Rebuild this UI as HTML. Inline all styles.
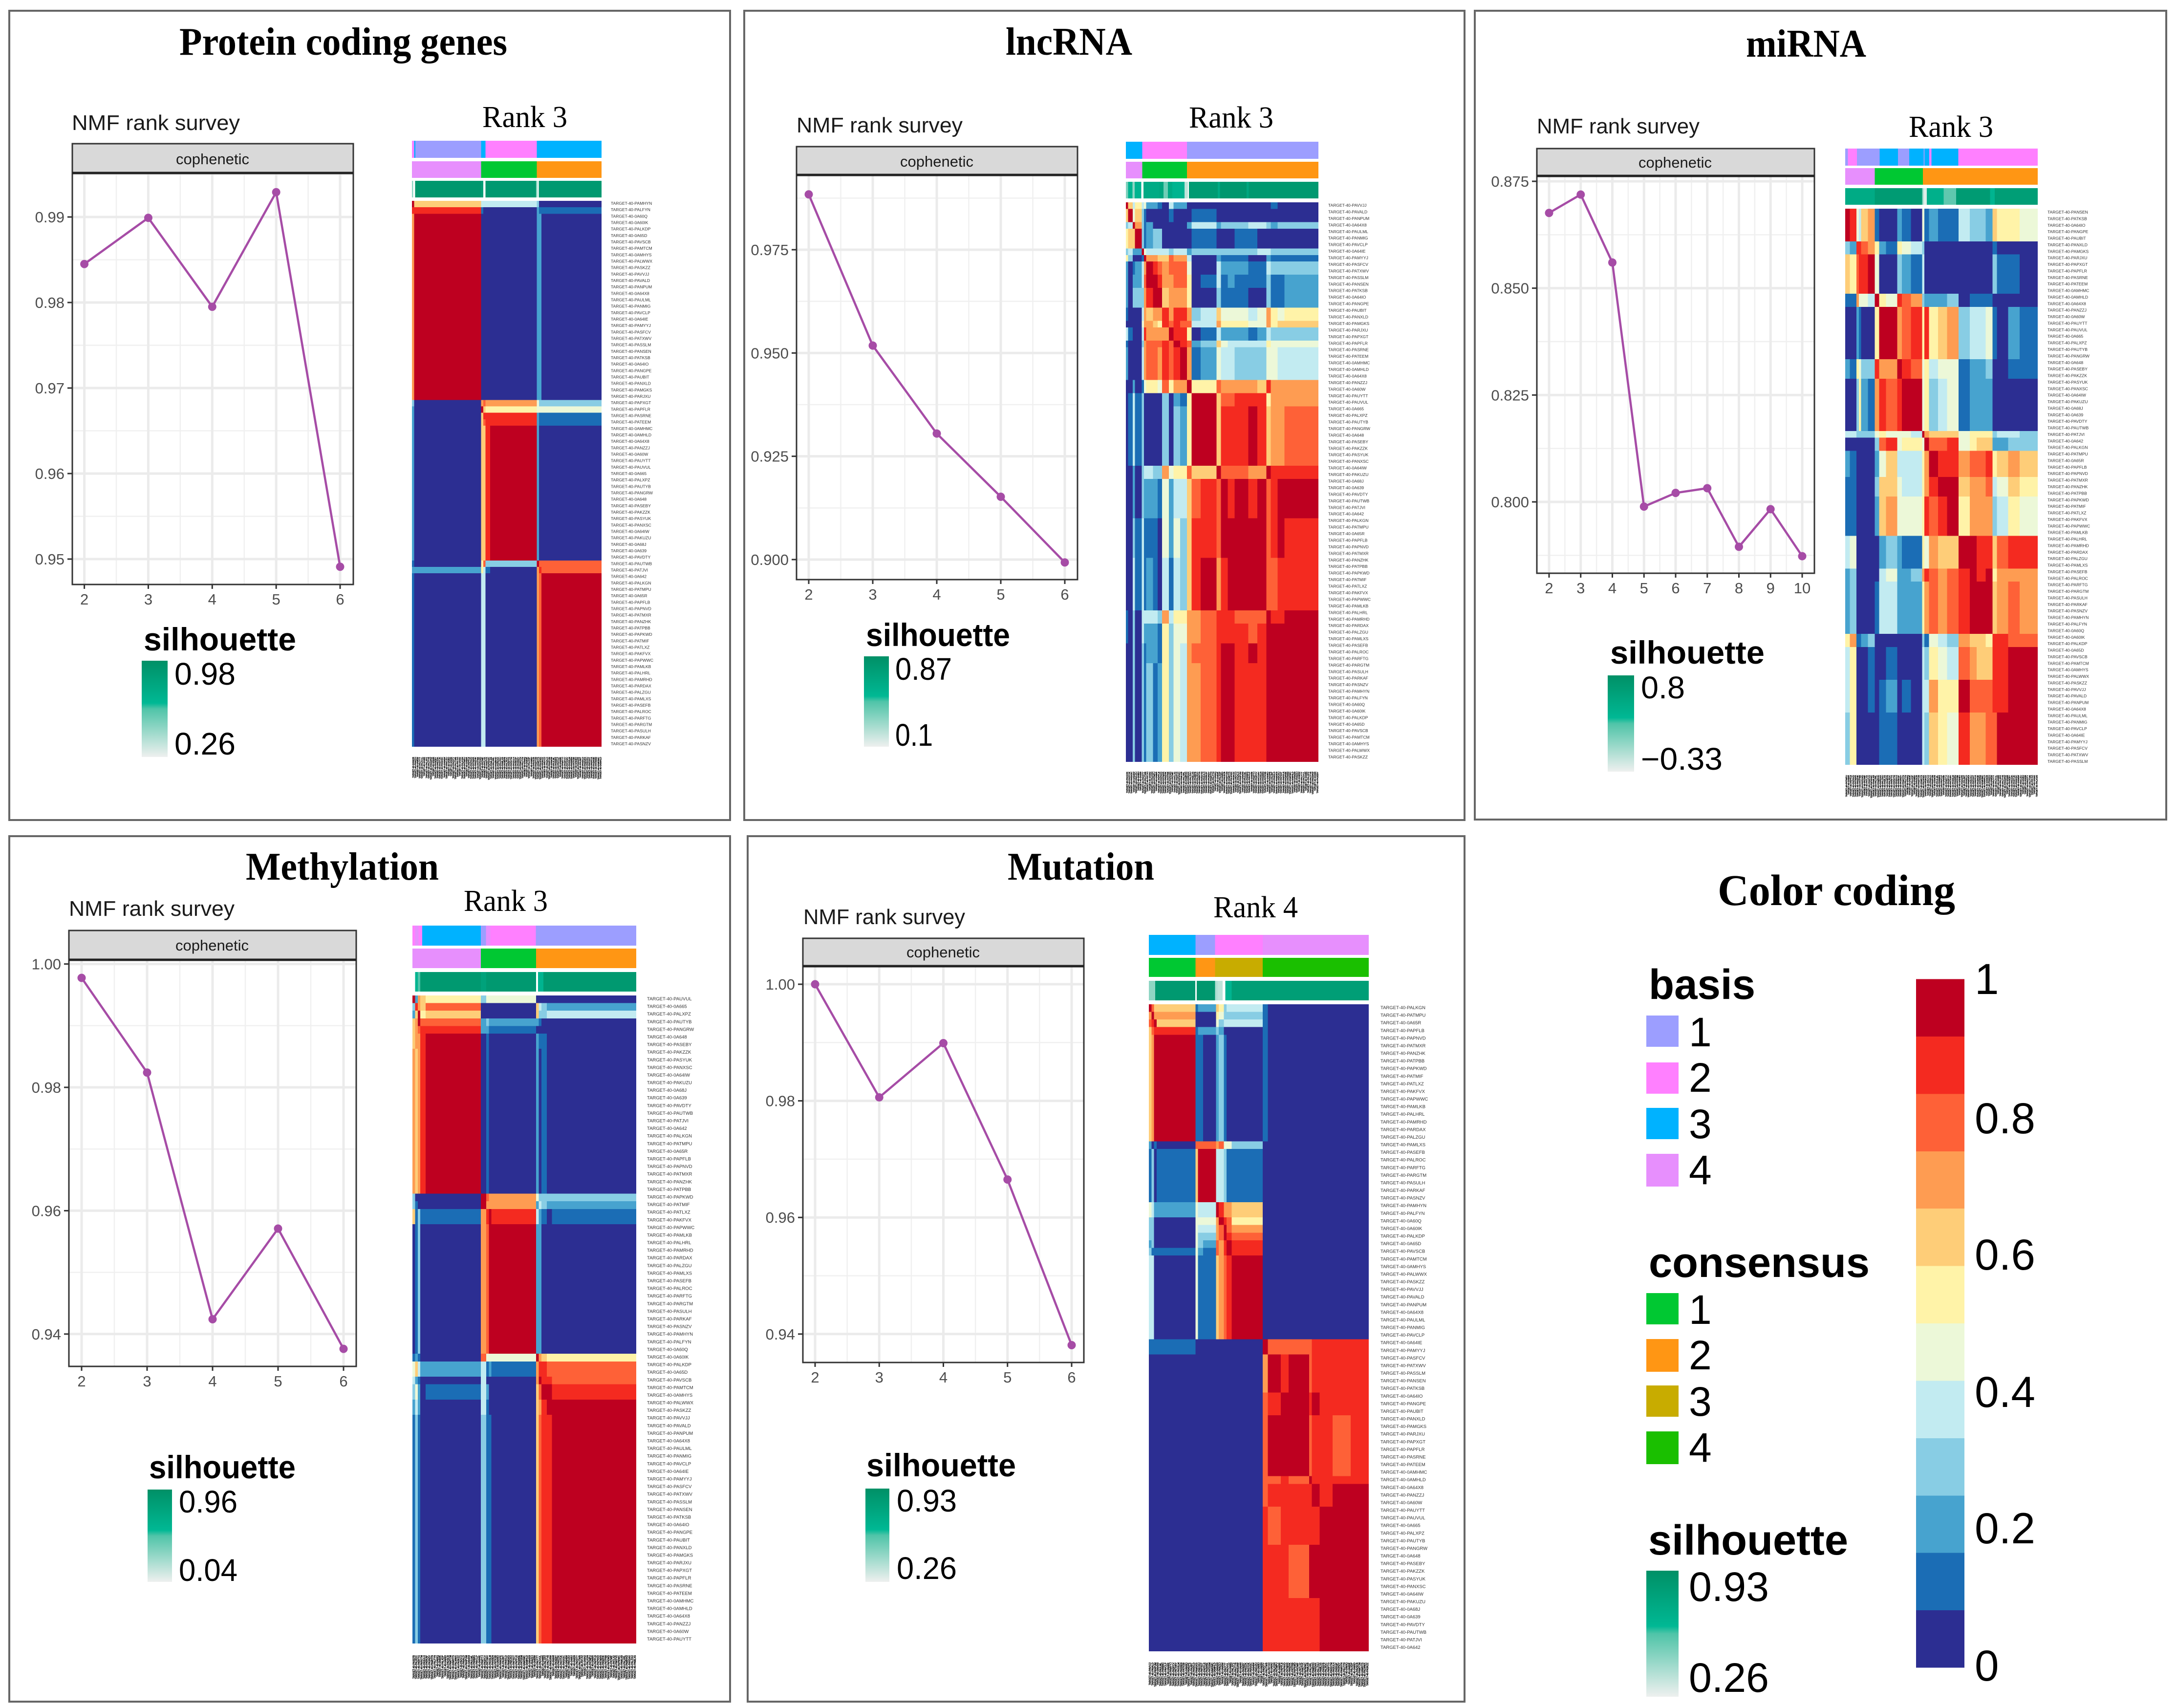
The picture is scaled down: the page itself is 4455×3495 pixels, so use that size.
<!DOCTYPE html>
<html lang="en">
<head>
<meta charset="utf-8">
<title>NMF rank survey and consensus heatmaps</title>
<style>
html,body{margin:0;padding:0;background:#fff}
svg{display:block}
.serif{font-family:"Liberation Serif",serif}
.sans{font-family:"Liberation Sans",sans-serif}
.title{font-weight:700;fill:#000;font-size:80px}
.rank{fill:#000;font-size:62px}
.nmf{fill:#1a1a1a;font-size:44px}
.strip{fill:#1a1a1a;font-size:31px}
.sil{font-weight:700;fill:#000;font-size:66px}
.val{fill:#000;font-size:64px}
.panel{fill:none;stroke:#666;stroke-width:4}
.stripbox{fill:#d9d9d9;stroke:#333;stroke-width:3}
.lg{fill:#000;font-size:84px}
.lgh{font-weight:700;fill:#000;font-size:86px}
</style>
</head>
<body>
<svg id="figure" xmlns="http://www.w3.org/2000/svg" width="4455" height="3495" viewBox="0 0 4455 3495">
<defs>
<linearGradient id="silGrad" x1="0" y1="0" x2="0" y2="1">
<stop offset="0" stop-color="#009066"/>
<stop offset="0.44" stop-color="#00b894"/>
<stop offset="0.5" stop-color="#4fc4a8"/>
<stop offset="1" stop-color="#eef0ef"/>
</linearGradient>
</defs>
<rect x="0" y="0" width="4455" height="3495" fill="#fff"/>

<g>
<rect class="panel" x="19" y="22" width="1475" height="1656"/>
<text class="serif title" x="367" y="112" textLength="671" lengthAdjust="spacingAndGlyphs">Protein coding genes</text>
<text class="sans nmf" x="147" y="266" textLength="344" lengthAdjust="spacingAndGlyphs">NMF rank survey</text>
<rect class="stripbox" x="148" y="294" width="575" height="60"/>
<text class="sans strip" x="435" y="336" text-anchor="middle">cophenetic</text>
<g id="survey-protein"></g>
<text class="sans sil" x="294" y="1331" textLength="312" lengthAdjust="spacingAndGlyphs">silhouette</text>
<rect x="290" y="1352" width="53" height="197" fill="url(#silGrad)"/>
<text class="sans val" x="357" y="1401" textLength="125" lengthAdjust="spacingAndGlyphs">0.98</text>
<text class="sans val" x="357" y="1544" textLength="125" lengthAdjust="spacingAndGlyphs">0.26</text>
<text class="serif rank" x="987" y="260" textLength="174" lengthAdjust="spacingAndGlyphs">Rank 3</text>
<g id="heat-protein"></g>
</g>

<g>
<rect class="panel" x="1523" y="22" width="1474" height="1656"/>
<text class="serif title" x="2058" y="112" textLength="259" lengthAdjust="spacingAndGlyphs">lncRNA</text>
<text class="sans nmf" x="1630" y="271" textLength="340" lengthAdjust="spacingAndGlyphs">NMF rank survey</text>
<rect class="stripbox" x="1630" y="300" width="575" height="58"/>
<text class="sans strip" x="1917" y="341" text-anchor="middle">cophenetic</text>
<g id="survey-lnc"></g>
<text class="sans sil" x="1772" y="1322" textLength="295" lengthAdjust="spacingAndGlyphs">silhouette</text>
<rect x="1768" y="1343" width="51" height="185" fill="url(#silGrad)"/>
<text class="sans val" x="1832" y="1391" textLength="116" lengthAdjust="spacingAndGlyphs">0.87</text>
<text class="sans val" x="1832" y="1526" textLength="77" lengthAdjust="spacingAndGlyphs">0.1</text>
<text class="serif rank" x="2433" y="261" textLength="173" lengthAdjust="spacingAndGlyphs">Rank 3</text>
<g id="heat-lnc"></g>
</g>

<g>
<rect class="panel" x="3018" y="22" width="1415" height="1655"/>
<text class="serif title" x="3573" y="116" textLength="246" lengthAdjust="spacingAndGlyphs">miRNA</text>
<text class="sans nmf" x="3145" y="273" textLength="333" lengthAdjust="spacingAndGlyphs">NMF rank survey</text>
<rect class="stripbox" x="3145" y="304" width="568" height="56"/>
<text class="sans strip" x="3428" y="343" text-anchor="middle">cophenetic</text>
<g id="survey-mirna"></g>
<text class="sans sil" x="3295" y="1358" textLength="316" lengthAdjust="spacingAndGlyphs">silhouette</text>
<rect x="3290" y="1382" width="54" height="197" fill="url(#silGrad)"/>
<text class="sans val" x="3358" y="1429" textLength="90" lengthAdjust="spacingAndGlyphs">0.8</text>
<text class="sans val" x="3358" y="1575" textLength="167" lengthAdjust="spacingAndGlyphs">−0.33</text>
<text class="serif rank" x="3906" y="280" textLength="173" lengthAdjust="spacingAndGlyphs">Rank 3</text>
<g id="heat-mirna"></g>
</g>

<g>
<rect class="panel" x="19" y="1711" width="1475" height="1771"/>
<text class="serif title" x="503" y="1800" textLength="395" lengthAdjust="spacingAndGlyphs">Methylation</text>
<text class="sans nmf" x="141" y="1874" textLength="339" lengthAdjust="spacingAndGlyphs">NMF rank survey</text>
<rect class="stripbox" x="141" y="1904" width="588" height="60"/>
<text class="sans strip" x="434" y="1945" text-anchor="middle">cophenetic</text>
<g id="survey-methyl"></g>
<text class="sans sil" x="305" y="3025" textLength="300" lengthAdjust="spacingAndGlyphs">silhouette</text>
<rect x="302" y="3048" width="50" height="189" fill="url(#silGrad)"/>
<text class="sans val" x="366" y="3095" textLength="120" lengthAdjust="spacingAndGlyphs">0.96</text>
<text class="sans val" x="366" y="3235" textLength="120" lengthAdjust="spacingAndGlyphs">0.04</text>
<text class="serif rank" x="949" y="1864" textLength="172" lengthAdjust="spacingAndGlyphs">Rank 3</text>
<g id="heat-methyl"></g>
</g>

<g>
<rect class="panel" x="1530" y="1711" width="1467" height="1771"/>
<text class="serif title" x="2062" y="1800" textLength="300" lengthAdjust="spacingAndGlyphs">Mutation</text>
<text class="sans nmf" x="1644" y="1891" textLength="331" lengthAdjust="spacingAndGlyphs">NMF rank survey</text>
<rect class="stripbox" x="1643" y="1920" width="575" height="57"/>
<text class="sans strip" x="1930" y="1959" text-anchor="middle">cophenetic</text>
<g id="survey-mutation"></g>
<text class="sans sil" x="1773" y="3021" textLength="306" lengthAdjust="spacingAndGlyphs">silhouette</text>
<rect x="1771" y="3046" width="49" height="191" fill="url(#silGrad)"/>
<text class="sans val" x="1835" y="3093" textLength="123" lengthAdjust="spacingAndGlyphs">0.93</text>
<text class="sans val" x="1835" y="3231" textLength="123" lengthAdjust="spacingAndGlyphs">0.26</text>
<text class="serif rank" x="2483" y="1877" textLength="173" lengthAdjust="spacingAndGlyphs">Rank 4</text>
<g id="heat-mutation"></g>
</g>

<g>
<text class="serif title" x="3515" y="1852" textLength="486" lengthAdjust="spacingAndGlyphs" style="font-size:90px">Color coding</text>
<text class="sans lgh" x="3374" y="2044" textLength="218" lengthAdjust="spacingAndGlyphs">basis</text>
<rect x="3369" y="2078" width="66" height="64" fill="#9c9eff"/>
<rect x="3369" y="2174" width="66" height="64" fill="#ff80ff"/>
<rect x="3369" y="2267" width="66" height="64" fill="#00b2ff"/>
<rect x="3369" y="2361" width="66" height="67" fill="#e78ffd"/>
<text class="sans lg" x="3456" y="2141">1</text>
<text class="sans lg" x="3456" y="2234">2</text>
<text class="sans lg" x="3456" y="2329">3</text>
<text class="sans lg" x="3456" y="2423">4</text>
<text class="sans lgh" x="3374" y="2613" textLength="452" lengthAdjust="spacingAndGlyphs">consensus</text>
<rect x="3369" y="2646" width="66" height="64" fill="#00c832"/>
<rect x="3369" y="2740" width="66" height="67" fill="#ff9614"/>
<rect x="3369" y="2835" width="66" height="64" fill="#c8ac00"/>
<rect x="3369" y="2929" width="66" height="67" fill="#1abf00"/>
<text class="sans lg" x="3456" y="2709">1</text>
<text class="sans lg" x="3456" y="2802">2</text>
<text class="sans lg" x="3456" y="2897">3</text>
<text class="sans lg" x="3456" y="2991">4</text>
<text class="sans lgh" x="3373" y="3181" textLength="409" lengthAdjust="spacingAndGlyphs">silhouette</text>
<rect x="3369" y="3214" width="66" height="258" fill="url(#silGrad)"/>
<text class="sans lg" x="3456" y="3276" textLength="164" lengthAdjust="spacingAndGlyphs">0.93</text>
<text class="sans lg" x="3456" y="3462" textLength="164" lengthAdjust="spacingAndGlyphs">0.26</text>
<g id="consensus-colorbar"></g>
<text class="sans lg" x="4041" y="2034" style="font-size:89px">1</text>
<text class="sans lg" x="4041" y="2319" textLength="124" lengthAdjust="spacingAndGlyphs" style="font-size:89px">0.8</text>
<text class="sans lg" x="4041" y="2598" textLength="124" lengthAdjust="spacingAndGlyphs" style="font-size:89px">0.6</text>
<text class="sans lg" x="4041" y="2879" textLength="124" lengthAdjust="spacingAndGlyphs" style="font-size:89px">0.4</text>
<text class="sans lg" x="4041" y="3158" textLength="124" lengthAdjust="spacingAndGlyphs" style="font-size:89px">0.2</text>
<text class="sans lg" x="4041" y="3439" style="font-size:89px">0</text>
</g>
</svg>

<script>
/* ---------- rank survey data ---------- */
const proteinRanks = [2,3,4,5,6];
const proteinCophenetic = [0.9845,0.9899,0.9795,0.9929,0.9491];
const proteinTicks = [0.95,0.96,0.97,0.98,0.99];

const lncRanks = [2,3,4,5,6];
const lncCophenetic = [0.9884,0.9518,0.9305,0.9152,0.8993];
const lncTicks = [0.900,0.925,0.950,0.975];

const mirnaRanks = [2,3,4,5,6,7,8,9,10];
const mirnaCophenetic = [0.8676,0.8719,0.856,0.7989,0.8021,0.8032,0.7895,0.7983,0.7873];
const mirnaTicks = [0.800,0.825,0.850,0.875];

const methylRanks = [2,3,4,5,6];
const methylCophenetic = [0.99775,0.9824,0.9424,0.9571,0.9376];
const methylTicks = [0.94,0.96,0.98,1.00];

const mutationRanks = [2,3,4,5,6];
const mutationCophenetic = [1.0,0.9806,0.9899,0.9665,0.9381];
const mutationTicks = [0.94,0.96,0.98,1.00];

/* ---------- shared category data ---------- */
const consensusPalette = ['#2c2e92','#1b6db5','#47a3cf','#88cde4','#c2ebf1','#ecf8d8','#fff3a8','#fecd78','#fe9c52','#fe6137','#f42a20','#be0020'];
const basisColors = ['#9c9eff','#ff80ff','#00b2ff','#e78ffd'];
const consensusColors = ['#00c832','#ff9614','#c8ac00','#1abf00','#e78ffd'];
const sampleIds = ['PAMHYN','PALFYN','0A60Q','0A60IK','PALKDP','0A65D','PAVSCB','PAMTCM','0AMHYS','PALWWX','PASKZZ','PAVVJJ','PAVALD','PANPUM','0A64X8','PAULML','PANMIG','PAVCLP','0A64IE','PAMYYJ','PASFCV','PATXWV','PASSLM','PANSEN','PATKSB','0A64IO','PANGPE','PAUBIT','PANXLD','PAMGKS','PARJXU','PAPXGT','PAPFLR','PASRNE','PATEEM','0AMHMC','0AMHLD','0A64X8','PANZZJ','0A60W','PAUYTT','PAUVUL','0A665','PALXPZ','PAUTYB','PANGRW','0A648','PASEBY','PAKZZK','PASYUK','PANXSC','0A64IW','PAKUZU','0A68J','0A639','PAVDTY','PAUTWB','PATJVI','0A642','PALKGN','PATMPU','0A65R','PAPFLB','PAPNVD','PATMXR','PANZHK','PATPBB','PAPKWD','PATMIF','PATLXZ','PAKFVX','PAPWWC','PAMLKB','PALHRL','PAMRHD','PARDAX','PALZGU','PAMLXS','PASEFB','PALROC','PARFTG','PARGTM','PASULH','PARKAF','PASNZV'];

/* ---------- protein heatmap data ---------- */
const proteinBasisCounts = [1,0.5,29.5,2,23,29];
const proteinBasisLevels = [1,2,0,2,1,2];
const proteinConsensusCounts = [31,25,29];
const proteinConsensusLevels = [4,0,1];
const proteinSilCounts = [0.6,0.8,29.6,1,1,22.6,0.7,0.5,28.2];
const proteinSilValues = [0.3,null,0.92,0.85,null,0.9,0.3,null,0.9];
const proteinColCounts = [1,30,1,1,2,21,1,1,27];
const proteinRowCounts = [1,1,29,1,1,1,1,21,1,1,27];
const proteinMatrix = [
[11,7,4,4,4,4,3,0,0],
[10,10,1,0,0,0,2,1,1],
[8,11,0,0,0,0,2,2,0],
[3,0,8,9,8,8,5,3,3],
[2,0,11,7,6,6,5,5,5],
[2,0,7,10,10,10,2,1,1],
[2,0,7,9,10,10,2,1,1],
[2,0,7,7,10,11,2,0,0],
[1,0,6,9,3,3,11,9,9],
[2,2,6,4,1,0,8,10,9],
[1,0,4,4,0,0,8,9,11]];

/* ---------- lncRNA heatmap data ---------- */
const lncBasisCounts = [7.2,19.8,58];
const lncBasisLevels = [2,1,0];
const lncConsensusCounts = [7.2,19.8,58];
const lncConsensusLevels = [4,0,1];
const lncSilCounts = [1,2,1,3,1,7,2,2,2,5.5,1.5,0.5,13,1,12,1,31.5];
const lncSilValues = [0.35,0.6,0.3,0.6,null,0.7,0.75,0.4,0.7,0.6,0.15,null,0.88,0.7,0.92,0.75,0.9];
const lncColCounts = [1,2,1,3,1,1,3,2,2,3,2,3,3,2,4,7,2,3,3,6,4,4,2,3,3,15];
const lncRowCounts = [1,2,1,3,1,1,2,2,3,2,1,2,1,5,2,2,9,2,6,6,8,2,3,3,15];
const lncMatrix = [
[11,7,4,6,4,5,2,2,1,0,4,2,2,0,0,0,0,0,0,0,0,0,0,1,0,0],
[7,11,5,7,3,1,0,0,0,0,1,0,0,0,1,1,0,0,0,0,0,0,0,0,0,0],
[3,4,11,8,3,1,2,0,0,0,0,0,0,2,4,4,2,3,3,3,4,4,3,2,3,3],
[6,7,7,11,3,1,2,3,3,0,0,0,0,0,1,1,0,0,0,1,1,0,0,0,0,0],
[3,4,2,2,11,5,4,4,4,4,3,4,4,2,3,3,3,3,3,3,3,4,4,3,3,3],
[6,3,0,0,1,11,8,8,7,7,9,8,8,4,0,0,2,1,1,1,0,0,2,1,1,1],
[2,0,1,2,4,8,11,10,9,8,9,9,9,5,0,0,4,2,2,2,1,1,4,3,3,3],
[2,0,2,2,4,9,11,11,10,8,8,9,9,6,0,1,4,1,2,1,1,1,3,1,1,2],
[2,0,3,3,3,8,10,11,11,7,8,8,8,6,0,0,3,1,1,1,0,0,3,1,1,2],
[1,0,0,0,4,8,7,8,8,10,8,10,10,8,3,4,7,5,5,5,4,5,8,6,5,6],
[0,0,0,0,5,8,8,7,6,10,9,10,9,9,4,4,8,6,6,6,5,5,8,6,7,7],
[4,1,0,0,4,10,8,8,8,8,11,10,10,6,0,1,4,2,2,2,1,2,4,3,3,3],
[1,0,0,0,3,8,9,9,9,10,9,11,10,9,2,3,7,5,4,4,4,4,6,5,5,5],
[2,0,0,0,4,8,9,9,8,10,9,10,11,8,1,2,5,4,4,3,3,3,5,5,4,4],
[0,0,2,0,1,5,6,6,5,9,6,8,8,11,6,6,9,8,8,8,8,7,10,8,8,8],
[0,1,4,1,3,0,0,0,0,3,0,2,1,6,11,11,7,9,9,10,10,10,6,8,8,8],
[0,1,4,1,3,0,0,0,0,3,0,3,2,6,11,11,7,10,10,10,11,10,7,8,8,9],
[0,0,2,0,3,4,4,3,3,8,5,6,6,9,7,7,11,9,9,9,8,8,11,10,10,10],
[0,0,2,0,3,2,2,2,1,5,2,4,4,7,9,10,9,11,10,11,10,11,9,10,11,11],
[0,0,3,1,4,1,1,1,0,5,2,5,3,7,10,10,9,11,11,11,11,11,9,10,11,10],
[0,0,4,1,4,1,2,1,0,4,1,4,3,7,10,11,8,10,11,11,11,11,9,9,10,10],
[1,0,3,0,4,4,4,4,3,8,4,6,6,8,8,9,10,10,10,9,9,9,11,10,10,11],
[1,0,3,0,4,2,2,2,1,6,3,5,5,8,8,9,10,10,10,10,9,10,11,11,11,11],
[0,0,3,0,3,1,2,2,1,6,3,5,4,8,9,9,10,11,11,10,11,10,11,11,11,11],
[0,0,3,0,3,1,3,1,2,6,3,5,4,8,8,9,10,11,11,10,10,10,11,11,11,11]];

/* ---------- miRNA heatmap data ---------- */
const mirnaBasisCounts = [1.2,4,10,8,5,6.3,0.5,2,1,11.8,35];
const mirnaBasisLevels = [0,1,0,2,0,2,0,2,1,2,1];
const mirnaConsensusCounts = [13,21.3,50.7];
const mirnaConsensusLevels = [4,0,1];
const mirnaSilCounts = [13,21,0.5,1.5,7.5,5.5,15,2,19];
const mirnaSilValues = [0.7,0.88,0.3,0.05,0.65,0.45,0.88,0.6,0.85];
const mirnaColCounts = [2,3,1,1,3,3,2,3,5,2,4,5,1,2,4,4,5,5,3,4,3,2,5,5,8];
const mirnaRowCounts = [5,2,6,2,8,3,8,1,2,4,3,6,5,2,8,2,5,5,8];
const mirnaMatrix = [
[11,10,5,4,7,8,1,0,0,2,1,0,5,1,2,1,1,4,3,3,2,7,6,6,5],
[3,2,10,10,9,8,6,2,1,6,5,4,3,0,0,0,0,0,0,0,0,1,0,0,0],
[7,6,9,10,10,11,5,0,0,3,2,1,4,0,0,0,0,0,0,0,0,3,1,1,0],
[1,1,8,5,5,4,11,6,5,10,9,8,3,2,2,2,3,0,1,1,1,0,0,0,0],
[0,0,2,1,0,0,6,11,11,8,9,10,6,10,6,7,8,3,4,4,5,1,0,2,1],
[2,1,6,5,3,3,10,8,8,11,10,9,5,6,4,5,5,1,2,2,3,0,0,1,1],
[0,0,3,6,2,1,8,10,9,10,11,11,5,6,3,4,5,1,2,2,2,0,0,0,0],
[4,4,3,3,3,3,5,6,5,5,5,4,11,8,7,7,7,5,6,6,6,3,4,4,3],
[0,0,0,0,0,0,3,9,10,5,6,6,5,11,9,9,10,5,6,7,7,2,2,3,3],
[2,1,0,0,0,0,2,5,7,4,4,4,6,8,11,10,10,8,9,9,10,6,7,8,7],
[1,1,0,0,0,0,3,7,7,5,4,4,6,8,10,11,11,7,8,8,9,4,5,7,6],
[1,1,0,0,0,0,2,7,8,5,5,5,6,10,9,10,11,6,8,8,8,3,4,6,5],
[4,5,0,0,0,0,0,2,3,2,1,1,6,5,8,7,7,11,11,10,10,7,9,10,10],
[2,3,0,0,0,0,0,4,5,2,2,3,8,10,9,8,9,10,11,10,11,6,8,8,8],
[2,3,0,0,0,0,1,4,4,2,2,2,6,8,9,8,9,10,11,11,11,7,8,9,8],
[6,8,1,1,2,3,0,0,0,0,0,0,3,1,5,4,3,8,7,7,6,10,10,9,9],
[4,6,0,0,0,1,0,0,1,0,0,0,4,3,6,5,4,9,8,7,7,10,10,11,11],
[4,6,0,0,0,1,0,1,2,0,1,0,4,4,8,6,6,11,9,9,9,10,10,11,11],
[3,6,0,0,0,0,0,1,1,0,0,0,4,3,7,6,5,10,8,8,9,9,11,11,11]];

/* ---------- methylation heatmap data ---------- */
const methylBasisCounts = [1,1.3,1.4,22.3,2,1.6,17.3,38.2];
const methylBasisLevels = [1,3,1,2,0,3,1,0];
const methylConsensusCounts = [26,21,38];
const methylConsensusLevels = [4,0,1];
const methylSilCounts = [1,1,1,23,2,19,0.7,2,35.3];
const methylSilValues = [null,0.6,0.5,0.9,0.8,0.9,null,0.6,0.9];
const methylColCounts = [1,1,1,2,21,2,1,1,17,1,1,2,2,32];
const methylRowCounts = [1,1,1,1,1,2,19,1,1,2,17,1,2,1,2,2,30];
const methylMatrix = [
[11,2,8,7,6,3,5,5,5,0,0,0,0,0],
[3,10,8,7,9,0,0,0,0,7,4,3,2,2],
[2,7,11,6,7,0,0,0,0,7,3,3,4,4],
[7,8,11,9,9,2,3,2,2,2,1,0,0,0],
[7,8,9,10,10,2,2,1,1,0,0,0,0,0],
[7,8,8,10,11,0,1,0,0,2,1,1,0,0],
[8,7,8,10,11,0,1,0,0,2,0,1,0,0],
[3,0,0,0,0,11,9,8,8,5,3,3,3,3],
[3,1,0,0,0,11,8,8,8,2,4,3,2,2],
[7,1,3,1,1,8,10,11,10,4,2,1,0,1],
[0,1,3,0,0,8,9,11,11,2,2,0,0,0],
[1,2,1,0,0,9,5,5,5,11,8,7,6,6],
[5,7,4,2,2,4,1,2,1,8,10,10,9,9],
[4,2,1,0,0,4,0,0,0,8,11,10,10,9],
[3,5,2,0,1,4,2,0,0,7,9,11,11,10],
[2,4,2,0,0,4,1,0,0,7,8,10,11,11],
[1,3,1,0,0,3,1,1,0,7,9,10,10,11]];

/* ---------- mutation heatmap data ---------- */
const mutationBasisCounts = [18,7.6,18.4,41];
const mutationBasisLevels = [2,0,1,3];
const mutationConsensusCounts = [18,7.6,18.4,41];
const mutationConsensusLevels = [0,1,2,3];
const mutationSilCounts = [2.5,15.5,0.5,7.1,1,2,1,2.5,53];
const mutationSilValues = [0.3,0.9,null,0.92,0.2,0.15,null,0.6,0.85];
const mutationColCounts = [1,1,1,15,1,2,5,1,2,1,2,12,2,5,3,8,1,3,5,7,7];
const mutationRowCounts = [1,1,1,1,14,1,7,2,1,1,1,1,1,11,2,5,3,8,1,3,5,7,7];
const mutationMatrix = [
[11,9,7,7,1,2,2,7,6,3,4,4,1,0,0,0,0,0,0,0,0],
[8,11,8,8,0,0,0,6,5,3,3,3,1,0,0,0,0,0,0,0,0],
[9,10,11,7,0,0,0,5,3,4,4,4,1,0,0,0,0,0,0,0,0],
[7,9,10,10,1,2,2,3,2,0,0,0,1,0,0,0,0,0,0,0,0],
[7,8,11,11,1,1,0,2,3,1,0,0,1,0,0,0,0,0,0,0,0],
[2,0,1,0,9,9,9,8,9,5,5,3,0,0,0,0,0,0,0,0,0],
[1,3,0,1,7,11,11,4,4,3,1,1,0,0,0,0,0,0,0,0,0],
[5,4,2,2,5,4,4,11,10,8,8,7,0,0,0,0,0,0,0,0,0],
[3,3,0,0,5,5,5,8,11,10,9,6,0,0,0,0,0,0,0,0,0],
[3,3,0,0,5,4,4,8,9,11,9,8,0,0,0,0,0,0,0,0,0],
[3,3,0,0,5,3,3,8,9,11,10,9,0,0,0,0,0,0,0,0,0],
[2,3,0,0,5,3,2,9,8,10,11,10,0,0,0,0,0,0,0,0,0],
[3,1,1,1,5,2,1,9,8,10,11,10,0,0,0,0,0,0,0,0,0],
[4,4,0,0,5,1,1,7,8,9,10,11,0,0,0,0,0,0,0,0,0],
[1,1,1,1,0,0,0,0,0,0,0,0,11,9,9,9,9,10,10,10,10],
[0,0,0,0,0,0,0,0,0,0,0,0,8,11,10,11,9,10,10,10,10],
[0,0,0,0,0,0,0,0,0,0,0,0,9,10,11,11,10,11,10,10,10],
[0,0,0,0,0,0,0,0,0,0,0,0,9,11,11,11,9,10,10,9,10],
[0,0,0,0,0,0,0,0,0,0,0,0,9,9,10,9,11,10,10,10,10],
[0,0,0,0,0,0,0,0,0,0,0,0,9,10,10,10,10,11,10,11,11],
[0,0,0,0,0,0,0,0,0,0,0,0,10,9,10,10,10,10,11,11,11],
[0,0,0,0,0,0,0,0,0,0,0,0,10,10,10,9,11,11,11,11,11],
[0,0,0,0,0,0,0,0,0,0,0,0,10,10,10,10,10,10,11,11,11]];

/* ---------- drawing ---------- */
const NS = 'http://www.w3.org/2000/svg';
function mk(parent, tag, attrs, name) {
  const el = document.createElementNS(NS, tag);
  for (const k in attrs) el.setAttribute(k, attrs[k]);
  
  
  parent.appendChild(el);
  return el;
}
function linear(d0, d1, r0, r1) {
  return v => r0 + (v - d0) * (r1 - r0) / (d1 - d0);
}
function drawSurvey(id, L, ranks, values, ticks, decimals) {
  const g = document.getElementById(id);
  const x = linear(L.xDom[0], L.xDom[1], L.xPix[0], L.xPix[1]);
  const y = linear(L.yDom[0], L.yDom[1], L.yPix[0], L.yPix[1]);
  const step = ticks[1] - ticks[0];
  for (let k = -2; k < ticks.length + 2; k++) {
    const yy = y(ticks[0] + (k + 0.5) * step);
    if (yy > L.top && yy < L.bottom) {
      mk(g, 'line', {x1:L.left, x2:L.right, y1:yy, y2:yy, stroke:'#f0f0f0', 'stroke-width':2.5}, 'minor-gridline-y');
    }
  }
  ranks.slice(0, -1).forEach(r => {
    const xx = x(r + 0.5);
    mk(g, 'line', {x1:xx, x2:xx, y1:L.top, y2:L.bottom, stroke:'#f0f0f0', 'stroke-width':2.5}, 'minor-gridline-x');
  });
  ticks.forEach(t => {
    mk(g, 'line', {x1:L.left, x2:L.right, y1:y(t), y2:y(t), stroke:'#ebebeb', 'stroke-width':5}, 'major-gridline-y');
  });
  ranks.forEach(r => {
    mk(g, 'line', {x1:x(r), x2:x(r), y1:L.top, y2:L.bottom, stroke:'#ebebeb', 'stroke-width':5}, 'major-gridline-x');
  });
  const pts = ranks.map((r, i) => x(r) + ',' + y(values[i])).join(' ');
  mk(g, 'polyline', {points:pts, fill:'none', stroke:'#a64ca6', 'stroke-width':4.5}, 'cophenetic-line');
  ranks.forEach((r, i) => {
    mk(g, 'circle', {cx:x(r), cy:y(values[i]), r:8.5, fill:'#a64ca6'}, 'cophenetic-point');
  });
  mk(g, 'rect', {x:L.left, y:L.top, width:L.right - L.left, height:L.bottom - L.top, fill:'none', stroke:'#333', 'stroke-width':3}, 'plot-frame');
  mk(g, 'line', {x1:L.left, x2:L.right, y1:L.top, y2:L.top, stroke:'#222', 'stroke-width':5}, 'strip-rule');
  ticks.forEach(t => {
    mk(g, 'line', {x1:L.left - 10, x2:L.left, y1:y(t), y2:y(t), stroke:'#333', 'stroke-width':3}, 'y-tick');
    const lb = mk(g, 'text', {x:L.left - 16, y:y(t) + 11, 'text-anchor':'end', 'font-size':31, fill:'#4d4d4d', class:'sans'}, 'y-tick-label');
    lb.textContent = t.toFixed(decimals);
  });
  ranks.forEach(r => {
    mk(g, 'line', {x1:x(r), x2:x(r), y1:L.bottom, y2:L.bottom + 9, stroke:'#333', 'stroke-width':3}, 'x-tick');
    const lb = mk(g, 'text', {x:x(r), y:L.bottom + 41, 'text-anchor':'middle', 'font-size':31, fill:'#4d4d4d', class:'sans'}, 'x-tick-label');
    lb.textContent = r;
  });
}
function sum(a) { return a.reduce((p, c) => p + c, 0); }
function hexRgb(h) { return [1,3,5].map(i => parseInt(h.substr(i, 2), 16)); }
function silColor(v) {
  if (v === null) return '#ffffff';
  const stops = [[0,'#eef0ef'],[0.5,'#4fc4a8'],[0.56,'#00b894'],[1,'#009066']];
  for (let i = 1; i < stops.length; i++) {
    if (v <= stops[i][0]) {
      const t = (v - stops[i-1][0]) / (stops[i][0] - stops[i-1][0]);
      const a = hexRgb(stops[i-1][1]), b = hexRgb(stops[i][1]);
      return 'rgb(' + a.map((c, j) => Math.round(c + (b[j] - c) * t)).join(',') + ')';
    }
  }
  return stops[3][1];
}
function drawTrack(g, L, top, bottom, counts, colorOf, name) {
  const total = sum(counts);
  const x = linear(0, total, L.left, L.right);
  let acc = 0;
  counts.forEach((c, i) => {
    mk(g, 'rect', {x:x(acc), y:top, width:x(acc + c) - x(acc), height:bottom - top, fill:colorOf(i), 'shape-rendering':'crispEdges'}, name);
    acc += c;
  });
}
function drawHeatmap(id, L, basisC, basisL, consC, consL, silC, silV, colC, rowC, matrix, idOffset) {
  const g = document.getElementById(id);
  drawTrack(g, L, L.basis[0], L.basis[1], basisC, i => basisColors[basisL[i]], 'basis-track-segment');
  drawTrack(g, L, L.cons[0], L.cons[1], consC, i => consensusColors[consL[i]], 'consensus-track-segment');
  drawTrack(g, L, L.sil[0], L.sil[1], silC, i => silColor(silV[i]), 'silhouette-track-segment');
  const x = linear(0, sum(colC), L.left, L.right);
  const y = linear(0, sum(rowC), L.top, L.bottom);
  let ra = 0;
  rowC.forEach((rc, ri) => {
    let ca = 0;
    colC.forEach((cc, ci) => {
      const lv = Math.max(0, Math.min(consensusPalette.length - 1, matrix[ri][ci]));
      mk(g, 'rect', {x:x(ca), y:y(ra), width:x(ca + cc) - x(ca), height:y(ra + rc) - y(ra), fill:consensusPalette[lv], 'shape-rendering':'crispEdges'}, 'heatmap-cell');
      ca += cc;
    });
    ra += rc;
  });
  const n = sampleIds.length;
  const ry = linear(0, n - 1, L.labelY[0], L.labelY[1]);
  const cx = linear(0, n, L.left, L.right);
  sampleIds.forEach((s, i) => {
    const id1 = 'TARGET-40-' + sampleIds[(i + idOffset) % n];
    const lb = mk(g, 'text', {x:L.labelX, y:ry(i) + 3, 'font-size':L.labelSize, fill:'#333', class:'sans'}, 'row-sample-label');
    lb.textContent = id1;
    const id2 = 'TARGET-40-' + sampleIds[(i + idOffset + 37) % n];
    const px = cx(i + 0.5) + 1.6;
    const cl = mk(g, 'text', {x:px, y:L.colY, 'text-anchor':'end', 'font-size':L.colSize, fill:'#000', stroke:'#000', 'stroke-width':0.45, class:'sans', transform:'rotate(-90 ' + px + ' ' + L.colY + ')'}, 'column-sample-label');
    cl.textContent = id2;
  });
}

/* rank surveys */
drawSurvey('survey-protein', {left:148,right:723,top:354,bottom:1196,xDom:[2,6],xPix:[172.6,696],yDom:[0.99,0.95],yPix:[444,1144]}, proteinRanks, proteinCophenetic, proteinTicks, 2);
drawSurvey('survey-lnc', {left:1630,right:2205,top:358,bottom:1186,xDom:[2,6],xPix:[1655,2179],yDom:[0.975,0.9],yPix:[511,1145]}, lncRanks, lncCophenetic, lncTicks, 3);
drawSurvey('survey-mirna', {left:3145,right:3713,top:360,bottom:1173,xDom:[2,10],xPix:[3170,3688],yDom:[0.875,0.8],yPix:[371,1027]}, mirnaRanks, mirnaCophenetic, mirnaTicks, 3);
drawSurvey('survey-methyl', {left:141,right:729,top:1964,bottom:2796,xDom:[2,6],xPix:[167,703],yDom:[1.0,0.94],yPix:[1972.6,2729.8]}, methylRanks, methylCophenetic, methylTicks, 2);
drawSurvey('survey-mutation', {left:1643,right:2218,top:1977,bottom:2788,xDom:[2,6],xPix:[1668,2193],yDom:[1.0,0.94],yPix:[2014,2729.8]}, mutationRanks, mutationCophenetic, mutationTicks, 2);

/* consensus heatmaps */
drawHeatmap('heat-protein', {left:843,right:1231,top:411,bottom:1528,basis:[288,323],cons:[330,364],sil:[370,404],labelX:1250,labelY:[416,1522],labelSize:8.5,colY:1549,colSize:4.6}, proteinBasisCounts, proteinBasisLevels, proteinConsensusCounts, proteinConsensusLevels, proteinSilCounts, proteinSilValues, proteinColCounts, proteinRowCounts, proteinMatrix, 0);
drawHeatmap('heat-lnc', {left:2304,right:2698,top:414,bottom:1559,basis:[290,325],cons:[331,365],sil:[372,406],labelX:2718,labelY:[420,1549],labelSize:8.5,colY:1579,colSize:4.6}, lncBasisCounts, lncBasisLevels, lncConsensusCounts, lncConsensusLevels, lncSilCounts, lncSilValues, lncColCounts, lncRowCounts, lncMatrix, 11);
drawHeatmap('heat-mirna', {left:3776,right:4170,top:427,bottom:1565,basis:[304,339],cons:[344,378],sil:[385,419],labelX:4190,labelY:[434,1558],labelSize:8.5,colY:1586,colSize:4.6}, mirnaBasisCounts, mirnaBasisLevels, mirnaConsensusCounts, mirnaConsensusLevels, mirnaSilCounts, mirnaSilValues, mirnaColCounts, mirnaRowCounts, mirnaMatrix, 23);
drawHeatmap('heat-methyl', {left:844,right:1302,top:2037,bottom:3363,basis:[1894,1935],cons:[1941,1981],sil:[1989,2029],labelX:1324,labelY:[2044,3354],labelSize:9.5,colY:3387,colSize:5},  methylBasisCounts, methylBasisLevels, methylConsensusCounts, methylConsensusLevels, methylSilCounts, methylSilValues, methylColCounts, methylRowCounts, methylMatrix, 41);
drawHeatmap('heat-mutation', {left:2351,right:2801,top:2055,bottom:3379,basis:[1913,1954],cons:[1960,1999],sil:[2007,2047],labelX:2825,labelY:[2062,3371],labelSize:9.5,colY:3402,colSize:5}, mutationBasisCounts, mutationBasisLevels, mutationConsensusCounts, mutationConsensusLevels, mutationSilCounts, mutationSilValues, mutationColCounts, mutationRowCounts, mutationMatrix, 59);

/* legend colour scale */
(function () {
  const g = document.getElementById('consensus-colorbar');
  const n = consensusPalette.length;
  const y = linear(0, n, 3412.5, 2003.5);
  consensusPalette.forEach((c, i) => {
    mk(g, 'rect', {x:3921, y:y(i + 1), width:99, height:y(i) - y(i + 1), fill:c, 'shape-rendering':'crispEdges'}, 'colorbar-band');
  });
})();
</script>
</body>
</html>
